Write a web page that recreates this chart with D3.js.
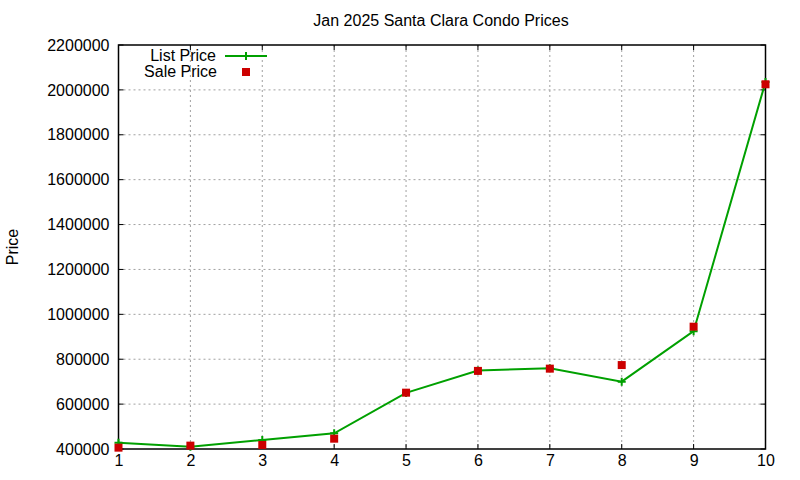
<!DOCTYPE html>
<html><head><meta charset="utf-8">
<script src="https://cdn.jsdelivr.net/npm/d3@7"></script>
<style>body{margin:0;background:#fff}svg{display:block}</style>
</head><body>
<svg id="c" width="800" height="480"></svg>
<script>
const xValues = [1,2,3,4,5,6,7,8,9,10];
const listPrice = [428000,410000,440000,470000,650000,750000,760000,700000,925000,2035000];
const salePrice = [406000,415000,418000,446000,651000,748000,758000,774000,945000,2025000];
const yTicks = [400000,600000,800000,1000000,1200000,1400000,1600000,1800000,2000000,2200000];
const title = "Jan 2025 Santa Clara Condo Prices";

const svg = d3.select("#c");
const L=118.5, R=765.5, T=45, B=449;
const x = d3.scaleLinear().domain([1,10]).range([L,R]);
const y = d3.scaleLinear().domain([400000,2200000]).range([B,T]);
const font = "Liberation Sans, Arial, sans-serif";
const fs = 16;

// grid
const g = svg.append("g");
g.selectAll(".vg").data(xValues.slice(1,-1)).join("line")
  .attr("x1",d=>x(d)).attr("x2",d=>x(d)).attr("y1",T).attr("y2",B)
  .attr("stroke","#a0a0a0").attr("stroke-dasharray","2,3").attr("stroke-width",1);
g.selectAll(".hg").data(yTicks.slice(1,-1)).join("line")
  .attr("x1",L).attr("x2",R).attr("y1",d=>y(d)).attr("y2",d=>y(d))
  .attr("stroke","#a0a0a0").attr("stroke-dasharray","2,3").attr("stroke-width",1);

// axes
const ax = d3.axisBottom(x).tickValues(xValues).tickSize(0).tickPadding(6).tickFormat(d3.format("d"));
const axG = svg.append("g").attr("transform",`translate(0,${B})`).call(ax);
axG.select(".domain").remove();
axG.selectAll("text").attr("font-family",font).attr("font-size",fs).attr("fill","#000");
const ay = d3.axisLeft(y).tickValues(yTicks).tickSize(0).tickPadding(9).tickFormat(d3.format("d"));
const ayG = svg.append("g").attr("transform",`translate(${L},0)`).call(ay);
ayG.select(".domain").remove();
ayG.selectAll("text").attr("font-family",font).attr("font-size",fs).attr("fill","#000");

// inner ticks (mirrored)
const tk = svg.append("g").attr("stroke","#000").attr("stroke-width",1);
xValues.forEach(v=>{
  tk.append("line").attr("x1",x(v)).attr("x2",x(v)).attr("y1",B).attr("y2",B-5);
  tk.append("line").attr("x1",x(v)).attr("x2",x(v)).attr("y1",T).attr("y2",T+5);
});
yTicks.forEach(v=>{
  tk.append("line").attr("x1",L).attr("x2",L+5).attr("y1",y(v)).attr("y2",y(v));
  tk.append("line").attr("x1",R).attr("x2",R-5).attr("y1",y(v)).attr("y2",y(v));
});
svg.append("rect").attr("x",L).attr("y",T).attr("width",R-L).attr("height",B-T)
  .attr("fill","none").attr("stroke","#000").attr("stroke-width",1.5);

// list line
const data = xValues.map((v,i)=>({x:v,l:listPrice[i],s:salePrice[i]}));
svg.append("path").datum(data)
  .attr("d",d3.line().x(d=>x(d.x)).y(d=>y(d.l)))
  .attr("fill","none").attr("stroke","#00a000").attr("stroke-width",2);
svg.selectAll(".plus").data(data).join("path")
  .attr("d",d=>`M${x(d.x)-4},${y(d.l)}h8M${x(d.x)},${y(d.l)-4}v8`)
  .attr("stroke","#00a000").attr("stroke-width",2);
// sale squares
svg.selectAll(".sq").data(data).join("rect")
  .attr("x",d=>x(d.x)-4).attr("y",d=>y(d.s)-4).attr("width",8).attr("height",8)
  .attr("fill","#cc0000");

// title
svg.append("text").attr("x",441).attr("y",26).attr("text-anchor","middle")
  .attr("font-family",font).attr("font-size",fs).text(title);
// y label
svg.append("text").attr("transform","translate(18,247) rotate(-90)").attr("text-anchor","middle")
  .attr("font-family",font).attr("font-size",fs).text("Price");

// legend
svg.append("text").attr("x",216).attr("y",61).attr("text-anchor","end")
  .attr("font-family",font).attr("font-size",fs).text("List Price");
svg.append("text").attr("x",217).attr("y",77).attr("text-anchor","end")
  .attr("font-family",font).attr("font-size",fs).text("Sale Price");
svg.append("path").attr("d","M225,56H267M246,52V60").attr("stroke","#00a000").attr("stroke-width",2);
svg.append("rect").attr("x",242).attr("y",68).attr("width",8).attr("height",8).attr("fill","#cc0000");
</script>
</body></html>
